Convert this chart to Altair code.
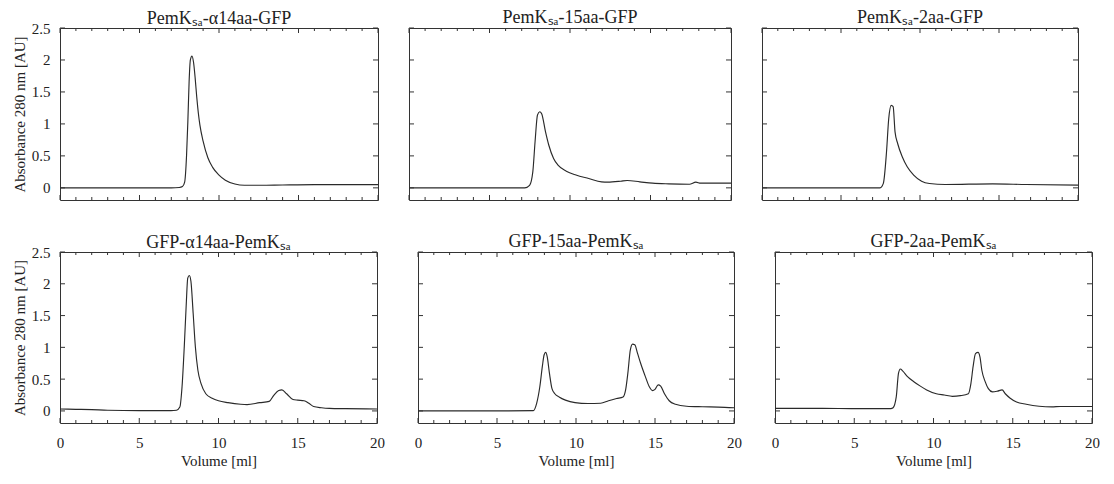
import altair as alt
import pandas as pd

FONT = "Liberation Serif"
LINE = "#2a2a2a"
FRAME = "#333333"

TITLES = ["PemKₛₐ-α14aa-GFP", "PemKₛₐ-15aa-GFP", "PemKₛₐ-2aa-GFP",
          "GFP-α14aa-PemKₛₐ", "GFP-15aa-PemKₛₐ", "GFP-2aa-PemKₛₐ"]

X_TICKS = list(range(0, 21))
X_LABELS = [0, 5, 10, 15, 20]
Y_LABELS = [0, 0.5, 1, 1.5, 2, 2.5]

# PemK-α14aa-GFP
VOL_1 = [0, 2, 4, 6, 7, 7.5, 7.7, 7.84, 7.96, 8.04, 8.12, 8.2, 8.3, 8.4, 8.5, 8.6, 8.7, 8.8,
         9.0, 9.3, 9.6, 10.0, 10.4, 11.0, 11.6, 12.6, 14, 16, 18, 20]
ABS_1 = [0.0, 0.0, 0.0, 0.0, 0.0, 0.005, 0.02, 0.09, 0.51, 1.03, 1.66, 2.0, 2.06, 1.96, 1.72,
         1.42, 1.17, 0.98, 0.73, 0.47, 0.32, 0.2, 0.12, 0.06, 0.04, 0.04, 0.045, 0.05, 0.05, 0.05]

# PemK-15aa-GFP
VOL_2 = [0, 3, 6, 7.19, 7.49, 7.69, 7.83, 7.98, 8.12, 8.24, 8.48, 8.68, 8.98, 9.27, 9.77,
         10.37, 11.16, 11.96, 12.35, 13.15, 13.55, 14.34, 15.13, 16.13, 17.42, 17.82, 18.11, 20]
ABS_2 = [0.0, 0.0, 0.0, 0.0, 0.04, 0.25, 0.72, 1.14, 1.19, 1.16, 0.875, 0.67, 0.46, 0.35, 0.26,
         0.2, 0.146, 0.094, 0.089, 0.104, 0.115, 0.094, 0.073, 0.0625, 0.057, 0.089, 0.073, 0.073]

# PemK-2aa-GFP
VOL_3 = [0, 3, 6, 7.47, 7.68, 7.88, 8.02, 8.18, 8.3, 8.42, 8.59, 8.89, 9.19, 9.6, 10.1,
         10.6, 11.6, 14.6, 16.7, 20]
ABS_3 = [0.0, 0.0, 0.0, 0.0, 0.07, 0.56, 1.08, 1.29, 1.27, 0.875, 0.69, 0.48, 0.33, 0.2, 0.104,
         0.068, 0.052, 0.0625, 0.052, 0.042]

# GFP-α14aa-PemK
VOL_4 = [0, 1, 2, 3, 5, 7, 7.35, 7.56, 7.7, 7.84, 7.96, 8.06, 8.16, 8.26, 8.4, 8.54, 8.7, 8.9,
         9.2, 9.6, 10, 10.6, 11.4, 11.8, 12.6, 13.2, 13.5, 13.8, 14.0, 14.3, 14.7, 15.0, 15.4,
         15.7, 16.0, 16.5, 17, 18, 20]
ABS_4 = [0.03, 0.025, 0.02, 0.01, 0.005, 0.005, 0.01, 0.06, 0.38, 1.01, 1.65, 2.09, 2.13, 2.04,
         1.54, 1.01, 0.64, 0.43, 0.27, 0.2, 0.16, 0.13, 0.105, 0.1, 0.13, 0.15, 0.25, 0.32, 0.33,
         0.27, 0.18, 0.17, 0.16, 0.12, 0.07, 0.05, 0.04, 0.035, 0.03]

# GFP-15aa-PemK
VOL_5 = [0, 5, 7.3, 7.51, 7.71, 7.87, 7.98, 8.08, 8.18, 8.32, 8.48, 8.66, 8.93, 9.33, 9.94,
         10.75, 11.56, 12.06, 12.57, 12.98, 13.14, 13.28, 13.44, 13.58, 13.72, 13.89, 14.09,
         14.39, 14.64, 14.84, 15.0, 15.2, 15.36, 15.6, 15.9, 16.3, 17.0, 18, 19, 20]
ABS_5 = [0.0, 0.0, 0.005, 0.12, 0.38, 0.70, 0.88, 0.92, 0.85, 0.59, 0.35, 0.27, 0.22, 0.17, 0.13,
         0.116, 0.12, 0.16, 0.195, 0.22, 0.33, 0.59, 0.96, 1.05, 1.04, 0.91, 0.75, 0.54, 0.38,
         0.32, 0.34, 0.41, 0.39, 0.27, 0.16, 0.105, 0.074, 0.065, 0.06, 0.05]

# GFP-2aa-PemK
VOL_6 = [0, 3, 5, 7.3, 7.45, 7.65, 7.79, 7.91, 8.05, 8.36, 8.76, 9.17, 9.57, 10.18, 10.68,
         11.19, 11.7, 12.2, 12.36, 12.5, 12.65, 12.81, 12.93, 13.05, 13.26, 13.46, 13.72, 14.02,
         14.33, 14.53, 14.84, 15.24, 15.85, 16.66, 17.47, 18, 20]
ABS_6 = [0.04, 0.04, 0.035, 0.035, 0.05, 0.22, 0.59, 0.66, 0.63, 0.54, 0.46, 0.39, 0.33, 0.27,
         0.25, 0.23, 0.24, 0.27, 0.43, 0.70, 0.90, 0.92, 0.85, 0.64, 0.46, 0.35, 0.30, 0.31,
         0.33, 0.27, 0.20, 0.14, 0.105, 0.074, 0.063, 0.07, 0.07]


def panel(title, vol, ab, w, h, show_x, show_y):
    xs = alt.Scale(domain=[0, 20], nice=False, zero=False)
    ys = alt.Scale(domain=[-0.19, 2.5], nice=False, zero=False)
    xaxis = (alt.Axis(values=X_LABELS, format="d", ticks=False, domain=False, grid=False,
                      labelFlush=False, labelPadding=12, title="Volume [ml]", titlePadding=3)
             if show_x else None)
    yaxis = (alt.Axis(values=Y_LABELS, format="~g", ticks=False, domain=False, grid=False,
                      labelPadding=10, title="Absorbance 280 nm [AU]", titlePadding=4)
             if show_y else None)
    df = pd.DataFrame({"vol": vol, "abs": ab})
    line = alt.Chart(df).mark_line(color=LINE, strokeWidth=1.15, interpolate="monotone").encode(
        x=alt.X("vol:Q", scale=xs, axis=xaxis),
        y=alt.Y("abs:Q", scale=ys, axis=yaxis),
    )
    layers = [line]
    minor = pd.DataFrame({"t": [t for t in X_TICKS if t not in X_LABELS]})
    major = pd.DataFrame({"t": X_LABELS})
    for data, L in ((minor, 3), (major, 5)):
        base = alt.Chart(data).mark_rule(color=FRAME, strokeWidth=1)
        layers.append(base.encode(x=alt.X("t:Q", scale=xs, axis=xaxis),
                                  y=alt.value(h), y2=alt.value(h - L)))
        layers.append(base.encode(x=alt.X("t:Q", scale=xs, axis=xaxis),
                                  y=alt.value(0), y2=alt.value(L)))
    ybase = alt.Chart(pd.DataFrame({"t": Y_LABELS})).mark_rule(color=FRAME, strokeWidth=1)
    layers.append(ybase.encode(y=alt.Y("t:Q", scale=ys, axis=yaxis),
                               x=alt.value(0), x2=alt.value(5)))
    layers.append(ybase.encode(y=alt.Y("t:Q", scale=ys, axis=yaxis),
                               x=alt.value(w - 5), x2=alt.value(w)))
    # the left column's "2.5" label reaches above the frame; compensate the title offset
    off = -6.5 if show_y else 1
    return alt.layer(*layers).properties(
        width=w, height=h, title=alt.TitleParams(title, frame="group", offset=off))


series = [(VOL_1, ABS_1), (VOL_2, ABS_2), (VOL_3, ABS_3),
          (VOL_4, ABS_4), (VOL_5, ABS_5), (VOL_6, ABS_6)]

top_w = [318, 322, 316]
bot_w = [317, 316, 317]

row1 = alt.hconcat(*[panel(TITLES[i], *series[i], top_w[i], 172, False, i == 0)
                     for i in range(3)], spacing=25)
row2 = alt.hconcat(*[panel(TITLES[3 + i], *series[3 + i], bot_w[i], 171, True, i == 0)
                     for i in range(3)], spacing=28)

chart = alt.vconcat(row1, row2, spacing=31).properties(
    padding={"left": 3, "top": 0, "right": 0, "bottom": 0},
    background="white",
).configure_view(
    stroke=FRAME, strokeWidth=1
).configure_axis(
    labelFont=FONT, titleFont=FONT, labelFontSize=15, titleFontSize=15,
    labelColor="#222", titleColor="#222", titleFontWeight="normal"
).configure_title(
    font=FONT, fontSize=18, fontWeight="normal", color="#222", anchor="middle"
)

chart.save("out.html", embed_options={"renderer": "svg", "actions": False})
